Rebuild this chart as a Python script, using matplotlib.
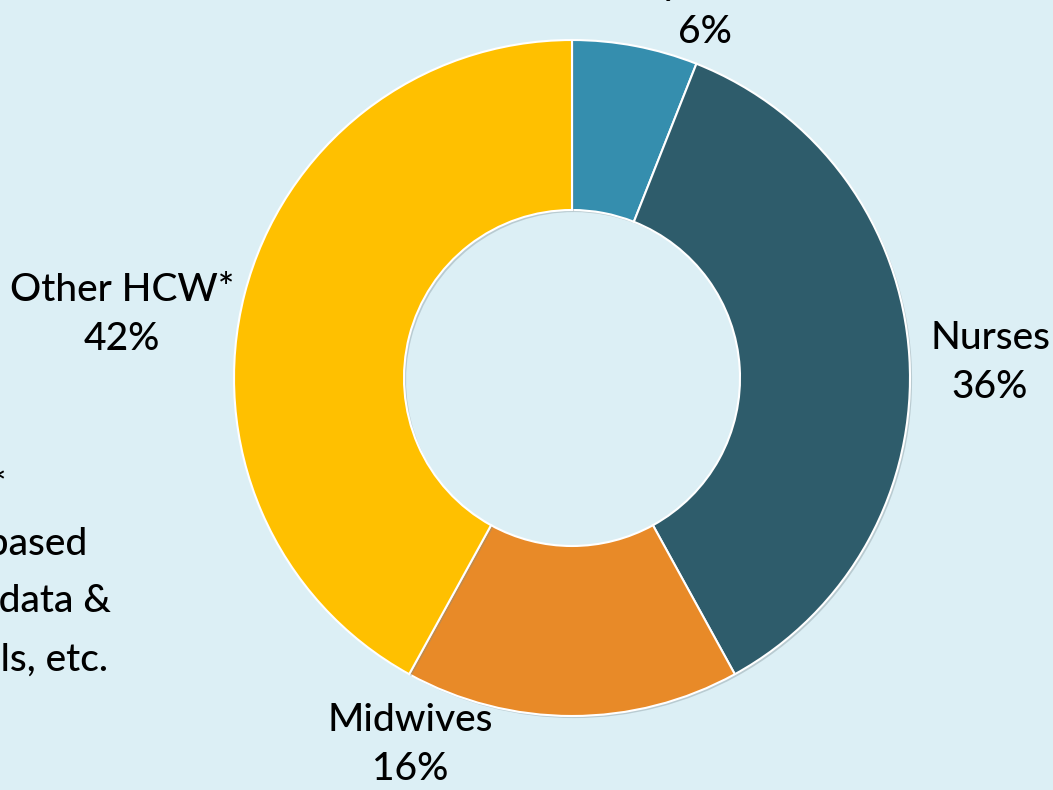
import matplotlib.pyplot as plt
from matplotlib import patheffects as pe

# share of health care workers by cadre
labels = ['Physicians', 'Nurses', 'Midwives', 'Other HCW*']
shares = [6, 36, 16, 42]
colors = ['#358EAE', '#2E5C6B', '#E88A28', '#FFC000']

bg = '#DCEFF5'
plt.rcParams['font.family'] = ['Liberation Sans Narrow', 'Lato', 'DejaVu Sans']

fig = plt.figure(figsize=(10.53, 7.90), dpi=100, facecolor=bg)
ax = fig.add_axes([0, 0, 1, 1])
ax.set_facecolor(bg)

cx, cy, r = 572, 412, 338
shadow = [pe.SimplePatchShadow(offset=(1.5, -1.5), shadow_rgbFace='#7a8a90', alpha=0.35), pe.Normal()]
ax.pie(shares, colors=colors, startangle=90, counterclock=False,
       center=(cx, cy), radius=r, frame=True,
       wedgeprops=dict(width=170, edgecolor='white', linewidth=1.5, path_effects=shadow))
ax.set_xlim(0, 1053)
ax.set_ylim(0, 790)
ax.axis('off')

fs = 28
txt = dict(fontsize=fs, ha='center', va='center', color='black', linespacing=1.5, fontweight='medium')
ax.text(705, 790 - 8, f'{labels[0]}\n{shares[0]}%', **txt)
ax.text(990, 790 - 363, f'{labels[1]}\n{shares[1]}%', **txt)
ax.text(410, 790 - 745, f'{labels[2]}\n{shares[2]}%', **txt)
ax.text(122, 790 - 315, f'{labels[3]}\n{shares[3]}%', **txt)

# footnote, cut off at the left edge as in the source slide
note = dict(fontsize=fs, ha='right', va='center', color='black', fontweight='medium')
ax.text(7, 790 - 488, 'HCW: *', **note)
ax.text(88, 790 - 545, 'community-based', **note)
ax.text(111, 790 - 602, 'health data &', **note)
ax.text(108, 790 - 660, 'officials, etc.', **note)

fig.savefig('out.png', dpi=100, facecolor=bg)
